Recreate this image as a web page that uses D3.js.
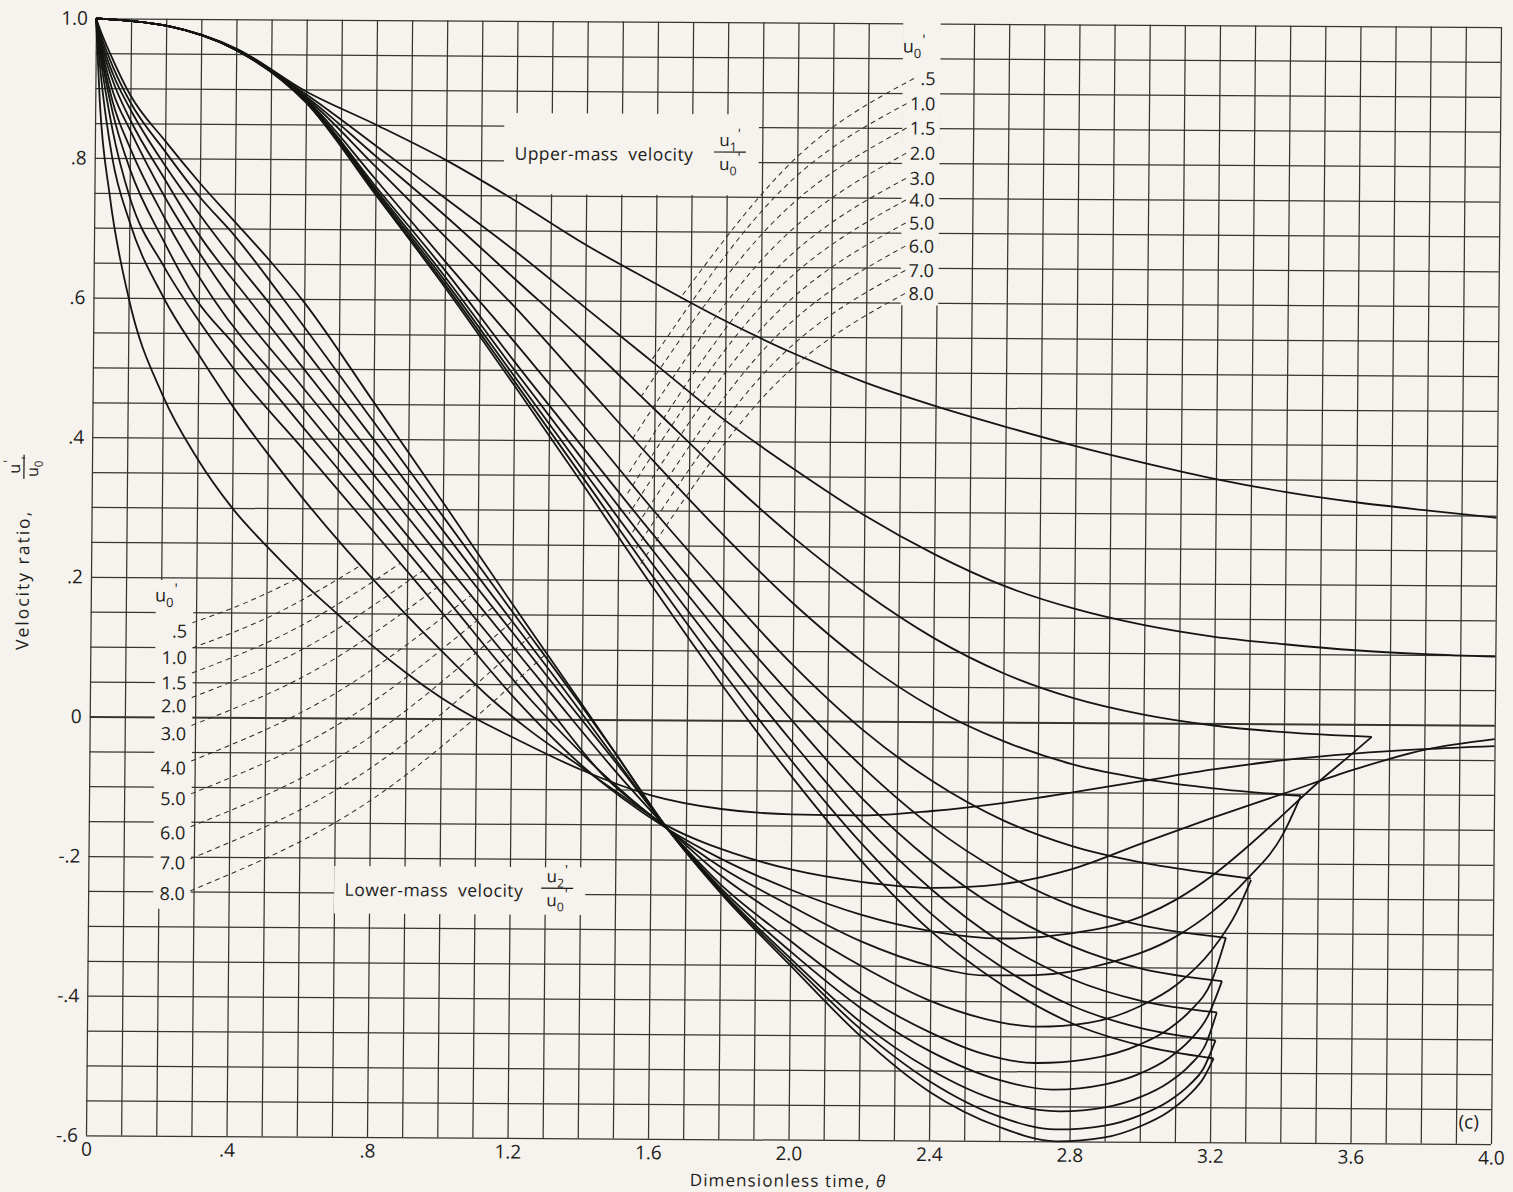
<!DOCTYPE html>
<html>
<head>
<meta charset="utf-8">
<script src="https://cdn.jsdelivr.net/npm/d3@7"></script>
<style>
html, body { margin: 0; padding: 0; background: #f6f3ee; }
svg { display: block; }
text { font-family: "Open Sans", "Liberation Sans", sans-serif; fill: #1d1d1b; }
</style>
</head>
<body>
<svg id="chart" width="1513" height="1192"></svg>
<script>
// ---- Axis ticks -------------------------------------------------------
const xTickVals = [0, 0.4, 0.8, 1.2, 1.6, 2.0, 2.4, 2.8, 3.2, 3.6, 4.0];
const xTickText = ["0", ".4", ".8", "1.2", "1.6", "2.0", "2.4", "2.8", "3.2", "3.6", "4.0"];
const yTickVals = [1.0, 0.8, 0.6, 0.4, 0.2, 0, -0.2, -0.4, -0.6];
const yTickText = ["1.0", ".8", ".6", ".4", ".2", "0", "-.2", "-.4", "-.6"];

// ---- Parameter values u0' -------------------------------------------
const paramText = [".5", "1.0", "1.5", "2.0", "3.0", "4.0", "5.0", "6.0", "7.0", "8.0"];

// ---- Upper-mass velocity u1'/u0' vs dimensionless time ---------------
const upper05 = [[0,1],[0.2,0.99],[0.4,0.958],[0.6,0.897],[0.8,0.85],[1.0,0.80],[1.2,0.742],[1.4,0.68],[1.6,0.625],[1.8,0.572],[2.0,0.525],[2.2,0.485],[2.4,0.452],[2.6,0.423],[2.8,0.396],[3.0,0.372],[3.2,0.350],[3.4,0.332],[3.6,0.318],[3.8,0.307],[4.0,0.297]];
const upper10 = [[0,1],[0.2,0.99],[0.4,0.957],[0.6,0.893],[0.8,0.82],[1.0,0.745],[1.2,0.67],[1.4,0.59],[1.6,0.51],[1.8,0.43],[2.0,0.36],[2.2,0.295],[2.4,0.24],[2.6,0.195],[2.8,0.163],[3.0,0.14],[3.2,0.124],[3.4,0.114],[3.6,0.106],[3.8,0.101],[4.0,0.098]];
const upper15 = [[0,1],[0.2,0.99],[0.4,0.956],[0.6,0.89],[0.8,0.805],[1.0,0.72],[1.2,0.63],[1.4,0.54],[1.6,0.445],[1.8,0.35],[2.0,0.262],[2.2,0.185],[2.4,0.12],[2.6,0.07],[2.8,0.035],[3.0,0.012],[3.2,-0.003],[3.4,-0.012],[3.65,-0.018]];
const upper20 = [[0,1],[0.2,0.99],[0.4,0.956],[0.6,0.888],[0.8,0.79],[1.0,0.69],[1.2,0.59],[1.4,0.48],[1.6,0.37],[1.8,0.265],[2.0,0.168],[2.2,0.085],[2.4,0.02],[2.6,-0.027],[2.8,-0.06],[3.0,-0.08],[3.2,-0.093],[3.45,-0.103]];
const upper30 = [[0,1],[0.2,0.99],[0.4,0.956],[0.6,0.886],[0.8,0.772],[1.0,0.655],[1.2,0.54],[1.4,0.42],[1.6,0.3],[1.8,0.187],[2.0,0.08],[2.2,-0.012],[2.4,-0.085],[2.6,-0.14],[2.8,-0.177],[3.0,-0.2],[3.2,-0.215],[3.31,-0.222]];
const upper40 = [[0,1],[0.2,0.99],[0.4,0.956],[0.6,0.885],[0.8,0.762],[1.0,0.642],[1.2,0.512],[1.4,0.388],[1.6,0.265],[1.8,0.147],[2.0,0.035],[2.2,-0.065],[2.4,-0.15],[2.6,-0.215],[2.8,-0.262],[3.0,-0.29],[3.24,-0.307]];
const upper50 = [[0,1],[0.2,0.99],[0.4,0.956],[0.6,0.884],[0.8,0.758],[1.0,0.633],[1.2,0.5],[1.4,0.37],[1.6,0.242],[1.8,0.118],[2.0,0.0],[2.2,-0.11],[2.4,-0.2],[2.6,-0.27],[2.8,-0.32],[3.0,-0.352],[3.23,-0.369]];
const upper60 = [[0,1],[0.2,0.99],[0.4,0.956],[0.6,0.883],[0.8,0.755],[1.0,0.627],[1.2,0.491],[1.4,0.356],[1.6,0.222],[1.8,0.093],[2.0,-0.03],[2.2,-0.145],[2.4,-0.24],[2.6,-0.315],[2.8,-0.367],[3.0,-0.398],[3.216,-0.414]];
const upper70 = [[0,1],[0.2,0.99],[0.4,0.956],[0.6,0.882],[0.8,0.752],[1.0,0.622],[1.2,0.484],[1.4,0.345],[1.6,0.205],[1.8,0.07],[2.0,-0.058],[2.2,-0.175],[2.4,-0.275],[2.6,-0.35],[2.8,-0.405],[3.0,-0.437],[3.213,-0.454]];
const upper80 = [[0,1],[0.2,0.99],[0.4,0.956],[0.6,0.881],[0.8,0.75],[1.0,0.618],[1.2,0.478],[1.4,0.335],[1.6,0.19],[1.8,0.05],[2.0,-0.08],[2.2,-0.2],[2.4,-0.3],[2.6,-0.375],[2.8,-0.43],[3.0,-0.462],[3.208,-0.48]];

// ---- Lower-mass velocity u2'/u0' vs dimensionless time ---------------
const lower05 = [[0,1],[0.013,0.88],[0.044,0.745],[0.1,0.6],[0.2,0.46],[0.3,0.37],[0.4,0.30],[0.5,0.245],[0.6,0.195],[0.7,0.15],[0.8,0.105],[0.9,0.065],[1.0,0.03],[1.1,0.0],[1.2,-0.025],[1.4,-0.072],[1.6,-0.108],[1.8,-0.127],[2.0,-0.134],[2.2,-0.135],[2.4,-0.128],[2.6,-0.116],[2.8,-0.1],[3.0,-0.083],[3.2,-0.066],[3.4,-0.052],[3.6,-0.042],[3.8,-0.035],[4.0,-0.03]];
const lower10 = [[0,1],[0.015,0.92],[0.05,0.8],[0.1,0.71],[0.2,0.6],[0.3,0.52],[0.4,0.445],[0.5,0.378],[0.6,0.315],[0.728,0.24],[0.88,0.158],[1.0,0.097],[1.148,0.026],[1.25,-0.015],[1.4,-0.068],[1.5,-0.103],[1.648,-0.152],[1.75,-0.175],[1.835,-0.19],[2.0,-0.213],[2.2,-0.23],[2.4,-0.238],[2.6,-0.232],[2.8,-0.21],[3.0,-0.172],[3.2,-0.135],[3.4,-0.1],[3.6,-0.065],[3.8,-0.036],[4.0,-0.02]];
const lower15 = [[0,1],[0.015,0.94],[0.05,0.84],[0.1,0.745],[0.2,0.645],[0.3,0.568],[0.4,0.5],[0.6,0.385],[0.85,0.24],[1.0,0.152],[1.216,0.026],[1.4,-0.065],[1.648,-0.156],[1.8,-0.198],[2.0,-0.242],[2.2,-0.277],[2.4,-0.3],[2.6,-0.31],[2.8,-0.302],[3.0,-0.277],[3.1,-0.252],[3.2,-0.218],[3.3,-0.176],[3.4,-0.13],[3.5,-0.083],[3.6,-0.04],[3.65,-0.018]];
const lower20 = [[0,1],[0.015,0.95],[0.05,0.865],[0.1,0.785],[0.2,0.68],[0.29,0.6],[0.4,0.535],[0.6,0.416],[0.8,0.298],[1.0,0.179],[1.258,0.026],[1.45,-0.072],[1.648,-0.156],[1.8,-0.21],[2.0,-0.265],[2.2,-0.315],[2.4,-0.35],[2.55,-0.363],[2.7,-0.362],[2.9,-0.345],[3.1,-0.305],[3.2,-0.27],[3.3,-0.222],[3.4,-0.158],[3.45,-0.103]];
const lower30 = [[0,1],[0.015,0.955],[0.05,0.88],[0.1,0.815],[0.2,0.715],[0.34,0.6],[0.6,0.443],[0.8,0.322],[1.0,0.201],[1.29,0.026],[1.46,-0.078],[1.648,-0.156],[1.8,-0.222],[2.0,-0.29],[2.2,-0.35],[2.4,-0.4],[2.6,-0.43],[2.7,-0.436],[2.85,-0.43],[3.0,-0.405],[3.1,-0.375],[3.2,-0.325],[3.27,-0.27],[3.31,-0.224]];
const lower40 = [[0,1],[0.015,0.96],[0.05,0.895],[0.1,0.84],[0.2,0.745],[0.3,0.665],[0.39,0.6],[0.6,0.472],[0.8,0.35],[1.0,0.227],[1.2,0.105],[1.33,0.026],[1.5,-0.075],[1.648,-0.156],[1.8,-0.235],[2.0,-0.315],[2.2,-0.39],[2.4,-0.445],[2.55,-0.475],[2.7,-0.488],[2.85,-0.482],[3.0,-0.46],[3.08,-0.438],[3.14,-0.412],[3.2,-0.37],[3.24,-0.307]];
const lower50 = [[0,1],[0.015,0.965],[0.05,0.91],[0.1,0.855],[0.2,0.77],[0.3,0.69],[0.44,0.6],[0.6,0.5],[0.8,0.375],[1.0,0.25],[1.2,0.125],[1.358,0.026],[1.5,-0.062],[1.648,-0.156],[1.8,-0.24],[2.0,-0.33],[2.2,-0.41],[2.4,-0.472],[2.6,-0.513],[2.75,-0.526],[2.9,-0.518],[3.0,-0.502],[3.08,-0.48],[3.14,-0.454],[3.19,-0.42],[3.23,-0.369]];
const lower60 = [[0,1],[0.015,0.97],[0.05,0.92],[0.1,0.87],[0.2,0.79],[0.3,0.72],[0.4,0.655],[0.49,0.6],[0.6,0.529],[0.8,0.4],[1.0,0.27],[1.2,0.14],[1.375,0.026],[1.5,-0.058],[1.648,-0.156],[1.8,-0.243],[2.0,-0.34],[2.2,-0.43],[2.4,-0.498],[2.6,-0.543],[2.77,-0.557],[2.9,-0.551],[3.0,-0.536],[3.08,-0.515],[3.14,-0.49],[3.185,-0.46],[3.216,-0.414]];
const lower70 = [[0,1],[0.015,0.975],[0.05,0.93],[0.1,0.88],[0.2,0.81],[0.3,0.745],[0.4,0.69],[0.54,0.6],[0.8,0.425],[1.0,0.29],[1.2,0.154],[1.39,0.026],[1.5,-0.05],[1.648,-0.156],[1.8,-0.245],[2.0,-0.345],[2.2,-0.44],[2.4,-0.515],[2.6,-0.565],[2.76,-0.583],[2.9,-0.577],[3.0,-0.562],[3.08,-0.542],[3.14,-0.518],[3.18,-0.494],[3.213,-0.454]];
const lower80 = [[0,1],[0.015,0.98],[0.05,0.94],[0.1,0.89],[0.2,0.825],[0.3,0.765],[0.4,0.71],[0.5,0.655],[0.6,0.595],[0.8,0.453],[1.0,0.31],[1.2,0.165],[1.395,0.026],[1.5,-0.05],[1.648,-0.156],[1.8,-0.247],[2.0,-0.35],[2.2,-0.45],[2.4,-0.53],[2.6,-0.58],[2.76,-0.6],[2.9,-0.594],[3.0,-0.578],[3.08,-0.557],[3.14,-0.532],[3.18,-0.508],[3.208,-0.48]];

const upperSeries = [upper05, upper10, upper15, upper20, upper30, upper40, upper50, upper60, upper70, upper80];
const lowerSeries = [lower05, lower10, lower15, lower20, lower30, lower40, lower50, lower60, lower70, lower80];

// ---- Key labels (data units) and dashed leaders to each curve ---------
const upperKeyY = [0.921, 0.885, 0.85, 0.814, 0.778, 0.747, 0.714, 0.681, 0.646, 0.613];
const lowerKeyY = [0.123, 0.085, 0.049, 0.016, -0.024, -0.073, -0.117, -0.166, -0.209, -0.253];
const upperLeaders = [
  [[2.33,0.921],[2.0,0.808],[1.67,0.604]],
  [[2.31,0.885],[1.95,0.757],[1.59,0.515]],
  [[2.31,0.85],[1.935,0.715],[1.56,0.462]],
  [[2.31,0.814],[1.925,0.673],[1.54,0.404]],
  [[2.31,0.778],[1.92,0.635],[1.53,0.355]],
  [[2.31,0.747],[1.915,0.601],[1.52,0.32]],
  [[2.31,0.714],[1.92,0.571],[1.53,0.295]],
  [[2.31,0.681],[1.925,0.54],[1.54,0.268]],
  [[2.31,0.646],[1.93,0.508],[1.548,0.243]],
  [[2.31,0.613],[1.935,0.4775],[1.56,0.22]]
];
const lowerLeaders = [
  [[0.29,0.135],[0.44,0.164],[0.59,0.2]],
  [[0.29,0.099],[0.528,0.149],[0.765,0.218]],
  [[0.29,0.063],[0.585,0.128],[0.88,0.222]],
  [[0.29,0.028],[0.618,0.102],[0.945,0.212]],
  [[0.29,-0.012],[0.65,0.071],[1.01,0.197]],
  [[0.29,-0.063],[0.688,0.032],[1.085,0.178]],
  [[0.29,-0.11],[0.718,-0.006],[1.145,0.16]],
  [[0.29,-0.157],[0.745,-0.045],[1.2,0.14]],
  [[0.29,-0.203],[0.77,-0.082],[1.25,0.118]],
  [[0.29,-0.249],[0.795,-0.12],[1.3,0.095]]
];

// ---- Drawing ------------------------------------------------------------
const PAPER = "#f6f3ee", INK = "#151513", GRID = "#34362f";
const FONT = "'Open Sans','Liberation Sans',sans-serif";
const W = 1405, H = 1117;
const x = d3.scaleLinear().domain([0, 4]).range([0, W]);
const y = d3.scaleLinear().domain([-0.6, 1]).range([H, 0]);

const svg = d3.select("#chart");
svg.append("rect").attr("width", 1513).attr("height", 1192).attr("fill", PAPER);

// the sheet sits very slightly askew
const g = svg.append("g").attr("transform", "matrix(1,0.0062,-0.00895,1,96,18.3)");

// grid: every 0.1 in time, every 0.05 in velocity ratio
const gridX = d3.range(0, 41).map(i => +(i / 10).toFixed(2));
const gridY = d3.range(0, 33).map(i => +(-0.6 + i * 0.05).toFixed(3));

const gx = g.append("g").attr("transform", `translate(0,${H})`)
  .call(d3.axisBottom(x).tickValues(gridX).tickSize(-H).tickFormat(""));
const gy = g.append("g")
  .call(d3.axisLeft(y).tickValues(gridY).tickSize(-W).tickFormat(""));
[gx, gy].forEach(a => {
  a.select(".domain").remove();
  a.selectAll("line").attr("stroke", GRID).attr("stroke-width", 1.25);
});
gy.selectAll(".tick").filter(d => Math.abs(d) < 1e-9).select("line").attr("stroke-width", 2);

// paper patches behind the lettering
const knock = g.append("g").attr("fill", PAPER);
knock.append("rect").attr("x", x(2.298)).attr("width", x(2.405) - x(2.298))
  .attr("y", y(1.012)).attr("height", y(0.596) - y(1.012));
knock.append("rect").attr("x", x(0.185)).attr("width", x(0.292) - x(0.185))
  .attr("y", y(0.196)).attr("height", y(-0.275) - y(0.196));
knock.append("rect").attr("x", x(1.165)).attr("width", x(1.89) - x(1.165))
  .attr("y", y(0.868)).attr("height", y(0.752) - y(0.868));
knock.append("rect").attr("x", x(0.7)).attr("width", x(1.415) - x(0.7))
  .attr("y", y(-0.212)).attr("height", y(-0.28) - y(-0.212));

// velocity curves
const line = d3.line().x(d => x(d[0])).y(d => y(d[1])).curve(d3.curveMonotoneX);
g.append("g").attr("fill", "none").attr("stroke", INK).attr("stroke-width", 1.8)
  .attr("stroke-linejoin", "round")
  .selectAll("path").data(upperSeries.concat(lowerSeries)).join("path").attr("d", line);

// dashed leaders from the u0' keys
const leader = d3.line().x(d => x(d[0])).y(d => y(d[1])).curve(d3.curveNatural);
g.append("g").attr("fill", "none").attr("stroke", "#2a2a27").attr("stroke-width", 1)
  .attr("stroke-dasharray", "5,4")
  .selectAll("path").data(upperLeaders.concat(lowerLeaders)).join("path").attr("d", leader);

// tick labels
const tickFont = 19;
g.append("g").attr("transform", `translate(0,${H})`)
  .call(d3.axisBottom(x).tickValues(xTickVals).tickSize(0).tickPadding(7)
    .tickFormat((d, i) => xTickText[i]))
  .call(a => a.select(".domain").remove())
  .selectAll("text").attr("font-size", tickFont).attr("fill", INK).attr("font-family", FONT);
g.append("g")
  .call(d3.axisLeft(y).tickValues(yTickVals).tickSize(0).tickPadding(8)
    .tickFormat((d, i) => yTickText[i]))
  .call(a => a.select(".domain").remove())
  .selectAll("text").attr("font-size", tickFont).attr("fill", INK).attr("font-family", FONT);

// u with subscript and prime
function uSym(sel, sub, size) {
  sel.append("tspan").text("u");
  if (sub !== null) {
    sel.append("tspan").attr("font-size", size * 0.72).attr("dy", size * 0.3).text(sub);
    sel.append("tspan").attr("font-size", size * 0.8).attr("dx", 1).attr("dy", -size * 0.75).text("'");
  } else {
    sel.append("tspan").attr("font-size", size * 0.8).attr("dx", 1).attr("dy", -size * 0.45).text("'");
  }
}

// stacked fraction u'/u0'
function fraction(parent, cx, cy, numSub, denSub, size, numY, denY, half) {
  const f = parent.append("g").attr("transform", `translate(${cx},${cy})`).attr("font-size", size);
  f.append("text").attr("x", 0).attr("y", numY).attr("text-anchor", "middle").call(s => uSym(s, numSub, size));
  f.append("line").attr("x1", -half).attr("x2", half).attr("y1", 0).attr("y2", 0)
    .attr("stroke", INK).attr("stroke-width", 1.2);
  f.append("text").attr("x", 0).attr("y", denY).attr("text-anchor", "middle").call(s => uSym(s, denSub, size));
  return f;
}

// u0' key columns
const keyFont = 18;
const uk = g.append("g").attr("font-size", keyFont);
uk.selectAll("text.uk").data(paramText).join("text").attr("class", "uk")
  .attr("x", x(2.392)).attr("y", (d, i) => y(upperKeyY[i]))
  .attr("dy", "0.36em").attr("text-anchor", "end").text(d => d);
uk.append("text").attr("x", x(2.33)).attr("y", y(0.958)).attr("text-anchor", "middle")
  .call(s => uSym(s, "0", keyFont));
uk.selectAll("text.lk").data(paramText).join("text").attr("class", "lk")
  .attr("x", x(0.275)).attr("y", (d, i) => y(lowerKeyY[i]))
  .attr("dy", "0.36em").attr("text-anchor", "end").text(d => d);
uk.append("text").attr("x", x(0.215)).attr("y", y(0.165)).attr("text-anchor", "middle")
  .call(s => uSym(s, "0", keyFont));

// curve family titles
const titleFont = 17.5;
g.append("text").attr("x", x(1.195)).attr("y", y(0.81)).attr("dy", "0.35em")
  .attr("font-size", titleFont).attr("letter-spacing", 0.45).attr("word-spacing", 5)
  .text("Upper-mass velocity");
fraction(g, x(1.808), y(0.814), "1", "0", 17, -6, 18, 16);
g.append("text").attr("x", x(0.73)).attr("y", y(-0.246)).attr("dy", "0.35em")
  .attr("font-size", titleFont).attr("letter-spacing", 0.5).attr("word-spacing", 5)
  .text("Lower-mass velocity");
fraction(g, x(1.335), y(-0.242), "2", "0", 17, -6, 18, 16);

// axis titles
const xt = g.append("text").attr("x", x(2.0)).attr("y", H + 47).attr("text-anchor", "middle")
  .attr("font-size", 17).attr("letter-spacing", 1.1);
xt.append("tspan").text("Dimensionless time, ");
xt.append("tspan").attr("font-style", "italic").text("θ");

const yt = g.append("g").attr("transform", `translate(-62,${y(0.195)}) rotate(-90)`);
yt.append("text").attr("x", 0).attr("y", 0).attr("text-anchor", "middle")
  .attr("font-size", 17.5).attr("letter-spacing", 2).text("Velocity ratio,");
fraction(yt, 113, -6, null, "0", 16, -4, 14, 12);

// panel tag
g.append("text").attr("x", x(3.965)).attr("y", y(-0.578)).attr("text-anchor", "end")
  .attr("font-size", 19).text("(c)");
</script>
</body>
</html>
